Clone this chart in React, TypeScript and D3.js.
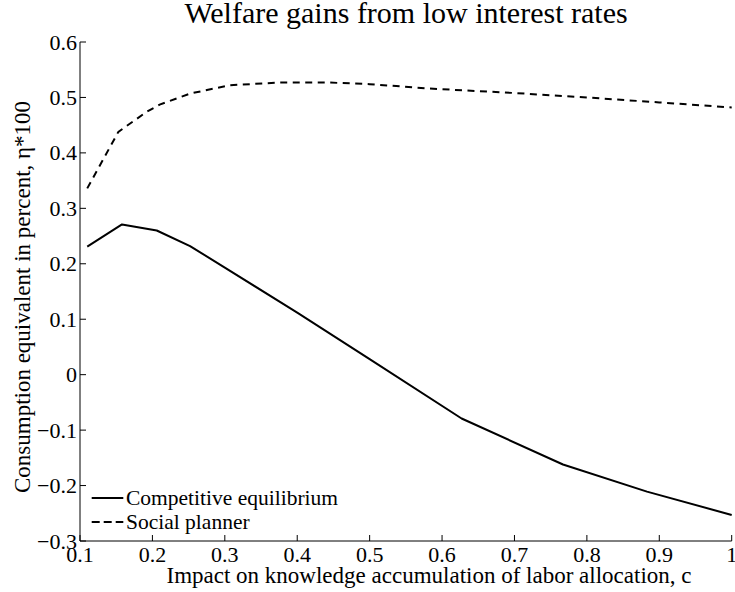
import React from "react";
import * as d3 from "d3";

const compC = [0.11, 0.158, 0.206, 0.252, 0.3, 0.4, 0.5, 0.627, 0.767, 0.883, 1.0];
const compV = [0.231, 0.271, 0.26, 0.232, 0.193, 0.112, 0.028, -0.079, -0.162, -0.211, -0.253];

const planC = [0.11, 0.153, 0.192, 0.21, 0.252, 0.307, 0.376, 0.441, 0.5, 0.583, 0.7, 0.8, 0.9, 1.0];
const planV = [0.336, 0.438, 0.474, 0.487, 0.507, 0.522, 0.527, 0.527, 0.524, 0.516, 0.508, 0.5, 0.491, 0.482];

const xTicks = [0.1, 0.2, 0.3, 0.4, 0.5, 0.6, 0.7, 0.8, 0.9, 1];
const yTicks = [-0.3, -0.2, -0.1, 0, 0.1, 0.2, 0.3, 0.4, 0.5, 0.6];

const title = "Welfare gains from low interest rates";
const xLabel = "Impact on knowledge accumulation of labor allocation, c";
const yLabel = "Consumption equivalent in percent, \u03b7*100";
const legendNames = ["Competitive equilibrium", "Social planner"];

const W = 735;
const H = 592;
const font = "Liberation Serif, DejaVu Serif, serif";

export default function App() {
  const x = d3.scaleLinear().domain([0.1, 1]).range([80, 731.7]);
  const y = d3.scaleLinear().domain([-0.3, 0.6]).range([541, 42]);
  const line = d3
    .line<[number, number]>()
    .x((d) => x(d[0]))
    .y((d) => y(d[1]));
  const compPts = compC.map((c, i) => [c, compV[i]] as [number, number]);
  const planPts = planC.map((c, i) => [c, planV[i]] as [number, number]);
  const fmt = (v: number) => {
    if (v === 0) return "0";
    if (v === 1) return "1";
    const s = Math.abs(v).toFixed(1);
    return (v < 0 ? "\u2212" : "") + s;
  };
  const ts = { fontFamily: font } as React.CSSProperties;

  return (
    <svg
      width={W}
      height={H}
      style={{ position: "absolute", left: 0, top: 0, background: "#fff" }}
    >
      <rect x={0} y={0} width={W} height={H} fill="#fff" />
      <line x1={80} y1={42} x2={80} y2={541} stroke="#000" strokeWidth={1} />
      <line x1={80} y1={541} x2={731.7} y2={541} stroke="#000" strokeWidth={1} />
      {xTicks.map((t) => (
        <g key={"x" + t}>
          <line x1={x(t)} x2={x(t)} y1={541} y2={535} stroke="#000" strokeWidth={1} />
          <text x={x(t)} y={562} fontSize={22} textAnchor="middle" fill="#000" style={ts}>
            {fmt(t)}
          </text>
        </g>
      ))}
      {yTicks.map((t) => (
        <g key={"y" + t}>
          <line x1={80} x2={86} y1={y(t)} y2={y(t)} stroke="#000" strokeWidth={1} />
          <text x={77} y={y(t) + 7.5} fontSize={22} textAnchor="end" fill="#000" style={ts}>
            {fmt(t)}
          </text>
        </g>
      ))}
      <path d={line(compPts) || ""} fill="none" stroke="#000" strokeWidth={2} strokeLinejoin="round" />
      <path
        d={line(planPts) || ""}
        fill="none"
        stroke="#000"
        strokeWidth={2}
        strokeDasharray="7,5.5"
      />
      <text x={406} y={23} fontSize={30} textAnchor="middle" fill="#000" style={ts}>
        {title}
      </text>
      <text x={429} y={583} fontSize={23} textAnchor="middle" fill="#000" style={ts}>
        {xLabel}
      </text>
      <text
        transform={`translate(30,297) rotate(-90)`}
        fontSize={23}
        textAnchor="middle"
        fill="#000"
        style={ts}
      >
        {yLabel}
      </text>
      <line x1={91.7} x2={123.3} y1={498} y2={498} stroke="#000" strokeWidth={2} />
      <text x={126} y={505} fontSize={21.5} fill="#000" style={ts}>
        {legendNames[0]}
      </text>
      <line
        x1={91.7}
        x2={123.3}
        y1={522}
        y2={522}
        stroke="#000"
        strokeWidth={2}
        strokeDasharray="8,4"
      />
      <text x={126} y={529} fontSize={21.5} fill="#000" style={ts}>
        {legendNames[1]}
      </text>
    </svg>
  );
}
